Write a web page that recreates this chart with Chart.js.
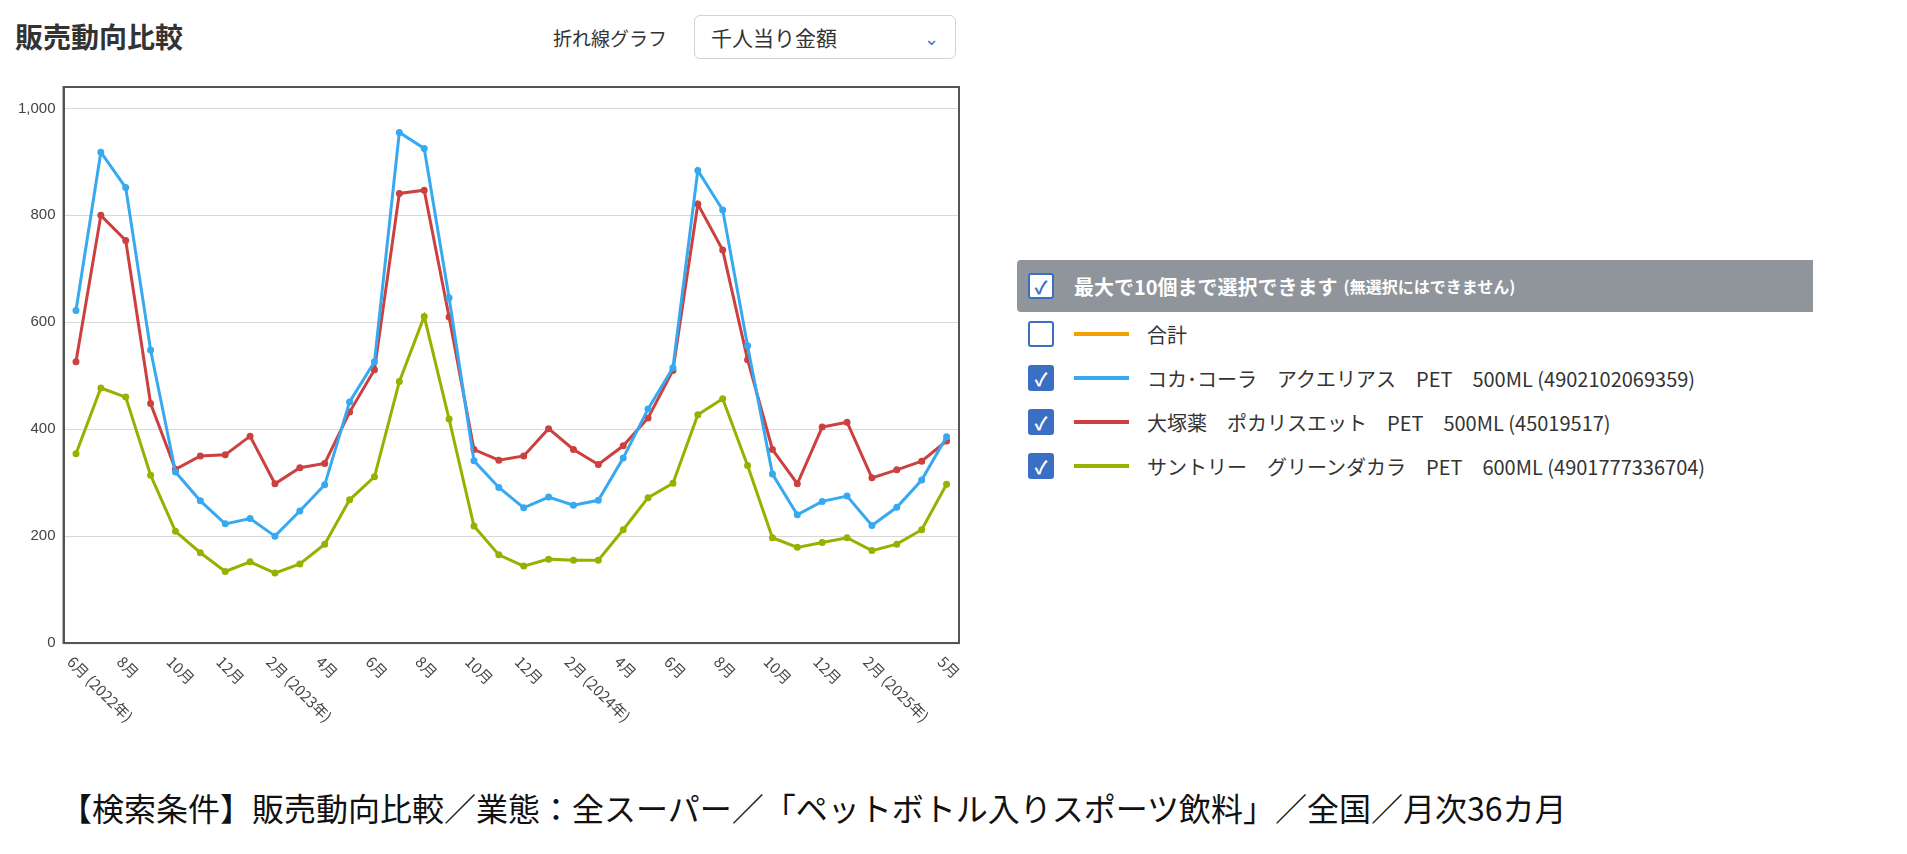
<!DOCTYPE html>
<html>
<head>
<meta charset="utf-8">
<script src="https://cdn.jsdelivr.net/npm/chart.js@4"></script>
<style>
  body { margin: 0; width: 1907px; height: 854px; background: #fff; font-family: "Noto Sans CJK JP", "Noto Sans", sans-serif; color: #333; position: relative; overflow: hidden; }
  #title { position: absolute; left: 15px; top: 16px; font-size: 28px; font-weight: bold; color: #333; }
  #selLabel { position: absolute; left: 553px; top: 24px; font-size: 19px; }
  #sel { position: absolute; left: 694px; top: 15px; width: 262px; height: 44px; border: 1px solid #ccd3dc; border-radius: 6px; box-sizing: border-box; font-size: 21px; line-height: 42px; padding-left: 16px; }
  #sel span { position: absolute; right: 16px; top: 0; color: #3a6fc4; font-size: 18px; }
  #wrap { position: absolute; left: 0; top: 70px; width: 975px; height: 690px; }
  #legend { position: absolute; left: 1017px; top: 260px; width: 796px; }
  .head { background: #8f959b; height: 52px; border-radius: 4px 0 0 4px; color: #fff; font-size: 20px; font-weight: bold; display: flex; align-items: center; }
  .head small { font-size: 16px; margin-left: 6px; }
  .box { width: 26px; height: 26px; border: 2px solid #3a6fc4; border-radius: 3px; box-sizing: border-box; margin-left: 11px; margin-right: 20px; display: inline-flex; align-items: center; justify-content: center; background: #fff; color: #3a6fc4; font-size: 18px; font-weight: bold; }
  .box.on { background: #3a6fc4; color: #fff; }
  .item { height: 44px; display: flex; align-items: center; font-size: 20px; color: #333; }
  .item .ln { width: 55px; height: 4px; margin-right: 18px; }
  #cap { position: absolute; left: 60px; top: 784px; font-size: 32px; color: #111; }
</style>
</head>
<body>
<div id="title">販売動向比較</div>
<div id="selLabel">折れ線グラフ</div>
<div id="sel">千人当り金額<span>&#8964;</span></div>
<div id="wrap"><canvas id="c"></canvas></div>
<div id="legend"></div>
<div id="cap">【検索条件】販売動向比較／業態：全スーパー／「ペットボトル入りスポーツ飲料」／全国／月次36カ月</div>
<script>
var months = ['6月 (2022年)','7月','8月','9月','10月','11月','12月','1月','2月 (2023年)','3月','4月','5月',
  '6月','7月','8月','9月','10月','11月','12月','1月','2月 (2024年)','3月','4月','5月',
  '6月','7月','8月','9月','10月','11月','12月','1月','2月 (2025年)','3月','4月','5月'];
// which month labels appear under the axis
var tickShown = [0,2,4,6,8,10,12,14,16,18,20,22,24,26,28,30,32,35];

var names = ['合計',
  'コカ･コーラ　アクエリアス　PET　500ML (4902102069359)',
  '大塚薬　ポカリスエット　PET　500ML (45019517)',
  'サントリー　グリーンダカラ　PET　600ML (4901777336704)'];
var colors = ['#f0a000', '#36a9f0', '#cc4040', '#99b000'];
var shown = [false, true, true, true];

var aquarius = [622,918,852,548,320,266,223,233,200,247,296,451,526,955,925,646,341,291,253,273,258,267,346,438,515,884,810,556,316,240,265,275,220,254,305,386];
var pocari = [526,800,753,448,325,350,352,387,298,328,336,432,511,841,847,610,362,342,350,401,362,334,369,421,510,821,735,530,362,298,404,413,309,324,340,378];
var greenDakara = [354,477,460,314,209,169,134,152,131,148,185,268,311,489,611,419,219,165,144,157,155,155,212,272,299,427,457,332,197,179,188,197,173,185,212,297];
var seriesData = [null, aquarius, pocari, greenDakara];

var datasets = [];
for (var i = 1; i < names.length; i++) {
  datasets.push({
    label: names[i],
    data: seriesData[i],
    borderColor: colors[i],
    backgroundColor: colors[i],
    borderWidth: 3,
    pointRadius: 2,
    tension: 0
  });
}

new Chart(document.getElementById('c').getContext('2d'), {
  type: 'line',
  data: { labels: months, datasets: datasets },
  options: {
    responsive: true,
    maintainAspectRatio: false,
    animation: false,
    layout: { padding: { top: 6, right: 16, left: 10, bottom: 30 } },
    plugins: { legend: { display: false }, tooltip: { enabled: false } },
    scales: {
      x: {
        offset: true,
        grid: { display: false },
        border: { color: '#555', width: 2 },
        ticks: {
          autoSkip: false, maxRotation: 45, minRotation: 45,
          color: 'rgba(0,0,0,0)', font: { size: 15, family: 'Noto Sans CJK JP' },
          callback: function(v, i) { return tickShown.indexOf(i) >= 0 ? months[i] : ''; }
        }
      },
      y: {
        min: 0, max: 1040,
        afterBuildTicks: function(s) { s.ticks = [0,200,400,600,800,1000].map(function(v) { return { value: v }; }); },
        border: { color: '#555', width: 2 },
        grid: { color: '#d8d8d8', drawTicks: false },
        ticks: { color: '#444', padding: 8, font: { size: 15 }, callback: function(v) { return v.toLocaleString('en-US'); } }
      }
    }
  },
  plugins: [{
    id: 'frameAndLabels',
    afterDraw: function(ch) {
      var a = ch.chartArea, c = ch.ctx, xs = ch.scales.x;
      c.save(); c.strokeStyle = '#555'; c.lineWidth = 2;
      c.strokeRect(a.left, a.top, a.right - a.left, a.bottom - a.top);
      c.fillStyle = '#444';
      c.font = '15px "Noto Sans CJK JP"';
      c.textAlign = 'left'; c.textBaseline = 'middle';
      tickShown.forEach(function(idx) {
        var x = xs.getPixelForValue(idx);
        c.save();
        c.translate(x - 6, a.bottom + 16);
        c.rotate(Math.PI / 4);
        c.fillText(months[idx], 0, 0);
        c.restore();
      });
      c.restore();
    }
  }]
});

var lg = document.getElementById('legend');
var html = '<div class="head"><span class="box">&#10003;</span>最大で10個まで選択できます<small>(無選択にはできません)</small></div>';
for (var j = 0; j < names.length; j++) {
  html += '<div class="item"><span class="box' + (shown[j] ? ' on' : '') + '">' + (shown[j] ? '&#10003;' : '') +
    '</span><span class="ln" style="background:' + colors[j] + '"></span>' + names[j] + '</div>';
}
lg.innerHTML = html;
</script>
</body>
</html>
